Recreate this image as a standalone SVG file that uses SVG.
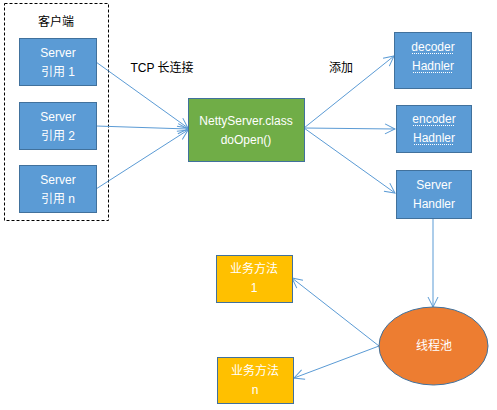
<svg xmlns="http://www.w3.org/2000/svg" width="497" height="410" viewBox="0 0 497 410">
<style>
text{font-family:"Liberation Sans","Noto Sans CJK SC",sans-serif;font-size:12px;text-anchor:middle}
.w{fill:#fff}
.k{fill:#000}
.blue{fill:#5B9BD5;stroke:#41719C;stroke-width:1}
.green{fill:#70AD47;stroke:#41719C;stroke-width:1}
.yellow{fill:#FFC000;stroke:#41719C;stroke-width:1}
.orange{fill:#ED7D31;stroke:#41719C;stroke-width:1}
.c{stroke:#5B9BD5;stroke-width:1;fill:none;marker-end:url(#ah)}
.u{stroke:#fff;stroke-width:1;stroke-dasharray:1 1}
</style>
<defs>
<marker id="ah" viewBox="0 0 12 12" refX="11" refY="6" markerWidth="12" markerHeight="12" markerUnits="userSpaceOnUse" orient="auto">
<path d="M1,1 L11,6 L1,11" fill="none" stroke="#5B9BD5" stroke-width="1"/>
</marker>
</defs>
<rect width="497" height="410" fill="#fff"/>
<g id="client">
<rect x="4.5" y="3.5" width="104" height="217" fill="none" stroke="#000" stroke-dasharray="3 2"/>
<text class="k" x="56" y="26">客户端</text>
</g>
<g id="connectors">
<line class="c" x1="96" y1="62" x2="188" y2="128"/>
<line class="c" x1="96" y1="126" x2="188" y2="129"/>
<line class="c" x1="96" y1="189" x2="188" y2="130"/>
<line class="c" x1="304" y1="128" x2="394" y2="56"/>
<line class="c" x1="304" y1="128" x2="395" y2="129"/>
<line class="c" x1="304" y1="128" x2="395" y2="193"/>
<line class="c" x1="433" y1="218" x2="433" y2="307"/>
<line class="c" x1="379" y1="346" x2="292" y2="278"/>
<line class="c" x1="379" y1="346" x2="294" y2="378"/>
</g>
<g id="label-tcp"><text class="k" x="162" y="72">TCP 长连接</text></g>
<g id="label-add"><text class="k" x="341" y="72">添加</text></g>
<g id="ref1">
<rect class="blue" x="19.5" y="38.5" width="77" height="47"/>
<text class="w" x="58" y="57">Server</text>
<text class="w" x="58" y="76">引用 1</text>
</g>
<g id="ref2">
<rect class="blue" x="19.5" y="102.5" width="77" height="47"/>
<text class="w" x="58" y="121">Server</text>
<text class="w" x="58" y="140">引用 2</text>
</g>
<g id="refn">
<rect class="blue" x="19.5" y="165.5" width="77" height="47"/>
<text class="w" x="58" y="184">Server</text>
<text class="w" x="58" y="203">引用 n</text>
</g>
<g id="netty">
<rect class="green" x="188.5" y="98.5" width="116" height="63"/>
<text class="w" x="246" y="125">NettyServer.class</text>
<text class="w" x="246" y="144">doOpen()</text>
</g>
<g id="decoder">
<rect class="blue" x="394.5" y="32.5" width="77" height="56"/>
<text class="w" x="433" y="51">decoder</text>
<text class="w" x="433" y="70">Hadnler</text>
<line class="u" x1="412" y1="53.5" x2="454" y2="53.5"/>
<line class="u" x1="413" y1="72.5" x2="453" y2="72.5"/>
</g>
<g id="encoder">
<rect class="blue" x="396.5" y="105.5" width="75" height="47"/>
<text class="w" x="434" y="123">encoder</text>
<text class="w" x="434" y="142">Hadnler</text>
<line class="u" x1="413" y1="125.5" x2="455" y2="125.5"/>
<line class="u" x1="414" y1="144.5" x2="454" y2="144.5"/>
</g>
<g id="serverhandler">
<rect class="blue" x="396.5" y="170.5" width="75" height="48"/>
<text class="w" x="434" y="189">Server</text>
<text class="w" x="434" y="208">Handler</text>
</g>
<g id="pool">
<ellipse class="orange" cx="433.5" cy="346" rx="54.5" ry="39"/>
<text class="w" x="434" y="350">线程池</text>
</g>
<g id="biz1">
<rect class="yellow" x="216.5" y="255.5" width="76" height="47"/>
<text class="w" x="254" y="273">业务方法</text>
<text class="w" x="254" y="292">1</text>
</g>
<g id="bizn">
<rect class="yellow" x="217.5" y="357.5" width="76" height="46"/>
<text class="w" x="255" y="375">业务方法</text>
<text class="w" x="255" y="394">n</text>
</g>
</svg>
